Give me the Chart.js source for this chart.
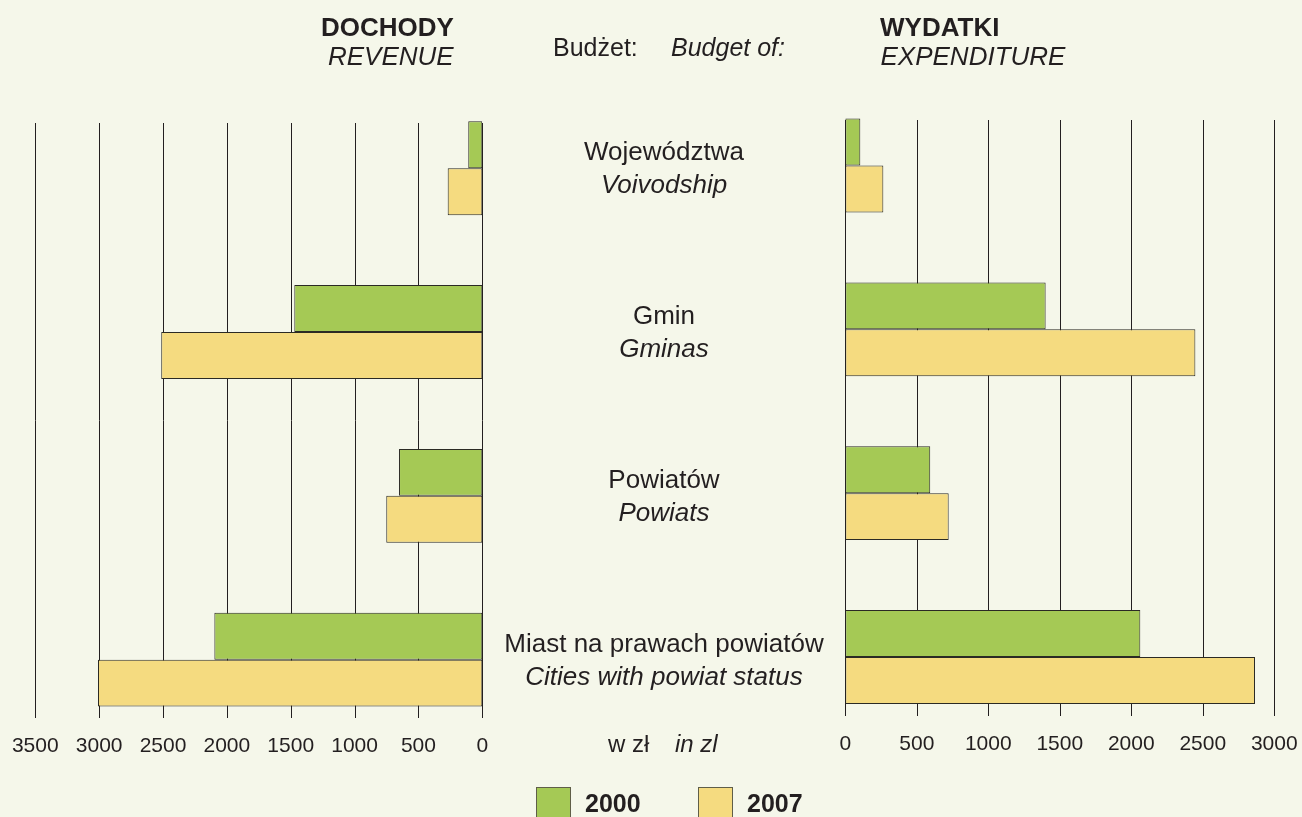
<!DOCTYPE html>
<html lang="pl">
<head>
<meta charset="utf-8">
<title>Budżety jednostek samorządu terytorialnego</title>
<script src="https://cdn.jsdelivr.net/npm/chart.js@4.4.1/dist/chart.umd.min.js"></script>
<style>
  html, body { margin: 0; padding: 0; background: #f5f7ea; }
  #wrap { position: relative; width: 1302px; height: 817px; overflow: hidden; background: #f5f7ea; }
  canvas { position: absolute; top: 0; }
  #revenue { left: 0; }
  #expenditure { left: 830px; }
</style>
</head>
<body>
<div id="wrap">
  <canvas id="revenue" width="830" height="817"></canvas>
  <canvas id="expenditure" width="472" height="817"></canvas>
</div>
<script>
// Budget levels (Polish / English)
const categoriesPl = ['Województwa', 'Gmin', 'Powiatów', 'Miast na prawach powiatów'];
const categoriesEn = ['Voivodship', 'Gminas', 'Powiats', 'Cities with powiat status'];
const years = ['2000', '2007'];

// Per-capita revenue and expenditure, zł
const revenue2000 = [110, 1472, 652, 2098];
const revenue2007 = [271, 2514, 752, 3009];
const expenditure2000 = [105, 1401, 594, 2063];
const expenditure2007 = [266, 2448, 723, 2865];

// Axis tick values
const revenueTicks = [0, 500, 1000, 1500, 2000, 2500, 3000, 3500];
const expenditureTicks = [0, 500, 1000, 1500, 2000, 2500, 3000];

const INK = '#231f20';
const GREEN = '#a5c955';
const YELLOW = '#f5db80';
const EDGE = '#2b2a24';
const FAMILY = '"Liberation Sans", Arial, Helvetica, sans-serif';
const font = (style, size) => `${style} ${size}px ${FAMILY}`;

// How far the vertical rules stay inside the outer category bands
const RULE_INSET_TOP = 0.225;
const RULE_INSET_BOTTOM = 0.142;

function datasets(a, b) {
  return [a, b].map((values, k) => ({
    label: years[k],
    data: values,
    backgroundColor: k === 0 ? GREEN : YELLOW,
    borderColor: EDGE,
    borderWidth: 1,
    borderSkipped: false,
    categoryPercentage: 0.573,
    barPercentage: 1
  }));
}

function options(ticks, reverse, padding) {
  return {
    indexAxis: 'y',
    responsive: false,
    animation: false,
    events: [],
    layout: { padding },
    plugins: { legend: { display: false }, tooltip: { enabled: false } },
    scales: {
      x: {
        type: 'linear',
        reverse,
        min: ticks[0],
        max: ticks[ticks.length - 1],
        border: { display: false },
        grid: { display: false, drawTicks: false },
        ticks: { display: false, stepSize: ticks[1] - ticks[0] }
      },
      y: {
        type: 'category',
        display: false,
        grid: { display: false }
      }
    }
  };
}

// Vertical rules and value labels of a panel, placed through its x scale
function frame(ticks) {
  const span = chart => {
    const y = chart.scales.y;
    const band = y.getPixelForValue(1) - y.getPixelForValue(0);
    return {
      top: chart.chartArea.top + band * RULE_INSET_TOP,
      bottom: chart.chartArea.bottom - band * RULE_INSET_BOTTOM
    };
  };
  return {
    id: 'frame',
    beforeDatasetsDraw(chart) {
      const { ctx } = chart;
      const x = chart.scales.x;
      const { top, bottom } = span(chart);
      ctx.save();
      ctx.strokeStyle = INK;
      ctx.lineWidth = 1;
      ctx.beginPath();
      ticks.forEach(v => {
        const px = Math.round(x.getPixelForValue(v)) + 0.5;
        ctx.moveTo(px, Math.round(top));
        ctx.lineTo(px, Math.round(bottom));
      });
      ctx.stroke();
      ctx.restore();
    },
    afterDraw(chart) {
      const { ctx } = chart;
      const x = chart.scales.x;
      const { bottom } = span(chart);
      ctx.save();
      ctx.fillStyle = INK;
      ctx.font = font('normal', 21);
      ctx.textAlign = 'center';
      ctx.textBaseline = 'alphabetic';
      ticks.forEach(v => ctx.fillText(String(v), x.getPixelForValue(v), bottom + 34));
      ctx.restore();
    }
  };
}

// Headings, category names, unit and legend drawn around the revenue panel
const revenueDecor = {
  id: 'revenueDecor',
  afterDraw(chart) {
    const ctx = chart.ctx;
    const y = chart.scales.y;
    ctx.save();
    ctx.fillStyle = INK;
    ctx.textBaseline = 'alphabetic';
    ctx.textAlign = 'left';
    ctx.font = font('bold', 26);
    ctx.fillText('DOCHODY', 321, 36);
    ctx.font = font('italic', 26);
    ctx.fillText('REVENUE', 328, 65);
    ctx.font = font('normal', 25);
    ctx.fillText('Budżet:', 553, 56);
    ctx.font = font('italic', 25);
    ctx.fillText('Budget of:', 671, 56);

    ctx.textAlign = 'center';
    categoriesPl.forEach((name, i) => {
      const cy = y.getPixelForValue(i);
      ctx.font = font('normal', 26);
      ctx.fillText(name, 664, cy - 8);
      ctx.font = font('italic', 26);
      ctx.fillText(categoriesEn[i], 664, cy + 25);
    });

    ctx.textAlign = 'left';
    ctx.font = font('normal', 24);
    ctx.fillText('w zł', 608, 752);
    ctx.font = font('italic', 24);
    ctx.fillText('in zl', 675, 752);

    // legend
    const swatches = [[GREEN, 536, 585], [YELLOW, 698, 747]];
    swatches.forEach(([colour, bx, tx], k) => {
      ctx.fillStyle = colour;
      ctx.fillRect(bx, 787, 34, 40);
      ctx.strokeStyle = '#5f5e48';
      ctx.lineWidth = 1;
      ctx.strokeRect(bx + 0.5, 787.5, 34, 40);
      ctx.fillStyle = INK;
      ctx.font = font('bold', 25);
      ctx.fillText(years[k], tx, 812);
    });
    ctx.restore();
  }
};

const expenditureDecor = {
  id: 'expenditureDecor',
  afterDraw(chart) {
    const ctx = chart.ctx;
    ctx.save();
    ctx.fillStyle = INK;
    ctx.textAlign = 'left';
    ctx.textBaseline = 'alphabetic';
    ctx.font = font('bold', 26);
    ctx.fillText('WYDATKI', 50, 36);
    ctx.font = font('italic', 26);
    ctx.fillText('EXPENDITURE', 50.5, 65);
    ctx.restore();
  }
};

new Chart(document.getElementById('revenue'), {
  type: 'bar',
  data: { labels: categoriesPl, datasets: datasets(revenue2000, revenue2007) },
  options: options(revenueTicks, true, { left: 35.3, right: 347.7, top: 86.3, bottom: 75.4 }),
  plugins: [frame(revenueTicks), revenueDecor]
});

new Chart(document.getElementById('expenditure'), {
  type: 'bar',
  data: { labels: categoriesPl, datasets: datasets(expenditure2000, expenditure2007) },
  options: options(expenditureTicks, false, { left: 15.3, right: 27.7, top: 83.6, bottom: 78.1 }),
  plugins: [frame(expenditureTicks), expenditureDecor]
});
</script>
</body>
</html>
